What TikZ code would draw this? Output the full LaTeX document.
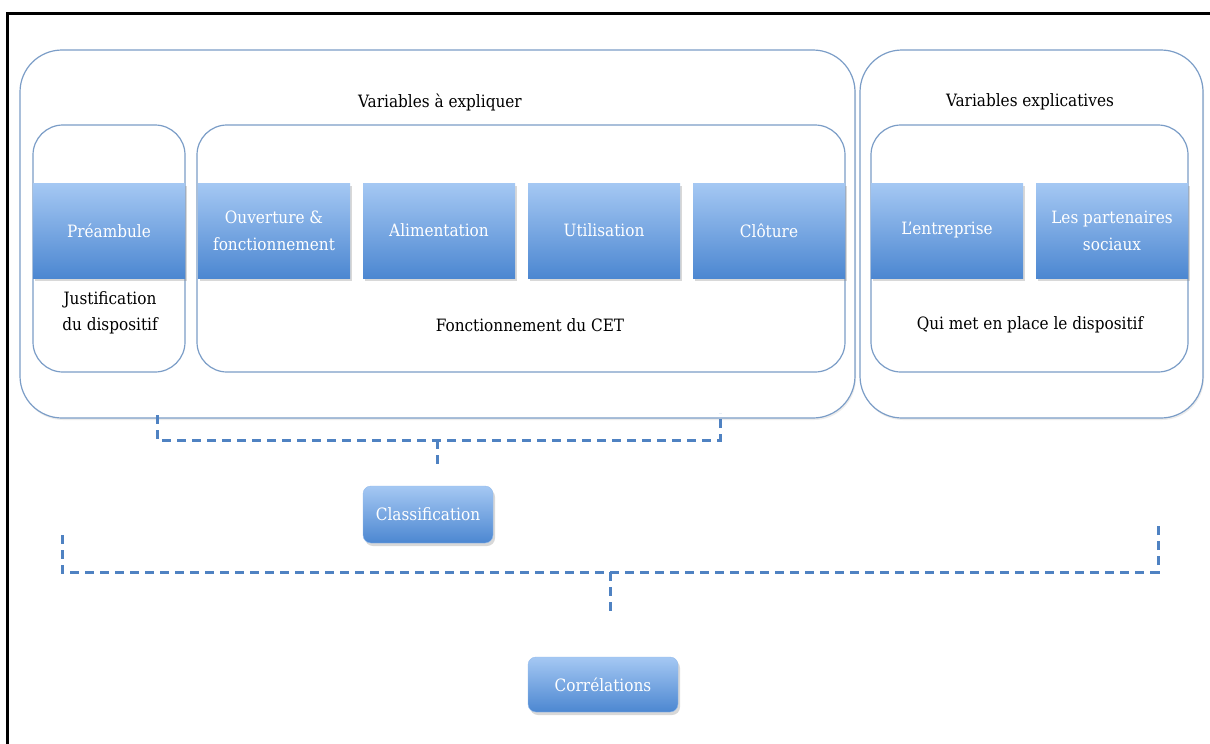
\documentclass[tikz,border=0pt]{standalone}
\usepackage{fontspec}
\setmainfont{DejaVu Serif Condensed}
\usetikzlibrary{shadows}
\definecolor{edgeblue}{HTML}{7B9DC7}
\definecolor{topblue}{HTML}{A5C8F3}
\definecolor{botblue}{HTML}{4C87D1}
\definecolor{dashblue}{HTML}{4F82C2}

\begin{document}
\begin{tikzpicture}[x=1pt,y=-1pt]
    \tikzstyle{group}=[draw=edgeblue,fill=white,line width=1.2pt,rounded corners=42pt,drop shadow={opacity=0.15,shadow xshift=1pt,shadow yshift=-2pt}]
    \tikzstyle{inner}=[draw=edgeblue,fill=white,line width=1.2pt,rounded corners=30pt]
    \tikzstyle{item}=[top color=topblue,bottom color=botblue,text=white,minimum width=152pt,minimum height=95pt,align=center,font=\fontsize{17}{27}\selectfont,drop shadow={opacity=0.3,shadow xshift=2pt,shadow yshift=-3pt}]
    \tikzstyle{step box}=[item,rounded corners=8pt,draw=topblue!80!botblue]
    \tikzstyle{caption}=[align=center,font=\fontsize{17}{26}\selectfont]
    \tikzstyle{bracket}=[draw=dashblue,line width=3pt,dash pattern=on 9pt off 6pt]
    \useasboundingbox (0,0) rectangle (1210,744);
    \fill[white] (0,0) rectangle (1210,744);
    \draw[line width=3pt] (7,744) -- (7,13) -- (1210,13);
    \node[group,minimum width=835pt,minimum height=368pt] (expl) at (437.5,234) {};
    \node[group,minimum width=343pt,minimum height=368pt] (causes) at (1031.5,234) {};
    \node[inner,minimum width=152pt,minimum height=247pt] (preGrp) at (109,248.5) {};
    \node[inner,minimum width=648pt,minimum height=247pt] (cetGrp) at (521,248.5) {};
    \node[inner,minimum width=317pt,minimum height=247pt] (whoGrp) at (1029.5,248.5) {};
    \node[caption] (explT) at (440,102) {Variables à expliquer};
    \node[caption] (causesT) at (1030,102) {Variables explicatives};
    \node[item] (pre) at (109,230.5) {Préambule};
    \node[item] (open) at (274,230.5) {Ouverture \&\\fonctionnement};
    \node[item] (feed) at (439,230.5) {Alimentation};
    \node[item] (use) at (604,230.5) {Utilisation};
    \node[item] (close) at (769,230.5) {Clôture};
    \node[item] (firm) at (947,230.5) {L’entreprise};
    \node[item] (union) at (1112,230.5) {Les partenaires\\sociaux};
    \node[caption] (preT) at (110,313) {Justification\\du dispositif};
    \node[caption] (cetT) at (530,325) {Fonctionnement du CET};
    \node[caption] (whoT) at (1030,325) {Qui met en place le dispositif};
    \node[step box,minimum width=130pt,minimum height=57pt] (cls) at (428,514.5) {Classification};
    \node[step box,minimum width=150pt,minimum height=55pt] (corr) at (603,684.5) {Corrélations};
    \coordinate (b1l) at (157,415);
    \coordinate (b1r) at (720,413);
    \coordinate (b1m) at (437,440);
    \coordinate (b2l) at (62,535);
    \coordinate (b2r) at (1158,523);
    \coordinate (b2m) at (610,572);
    \draw[bracket] (b1l) -- ++(0,25) -| (b1r);
    \draw[bracket,shorten >=21pt] (b1m) -- (b1m |- cls.north);
    \draw[bracket] (b2l) -- ++(0,37) -| (b2r);
    \draw[bracket,shorten >=42pt] (b2m) -- (b2m |- corr.north);
\end{tikzpicture}
\end{document}
